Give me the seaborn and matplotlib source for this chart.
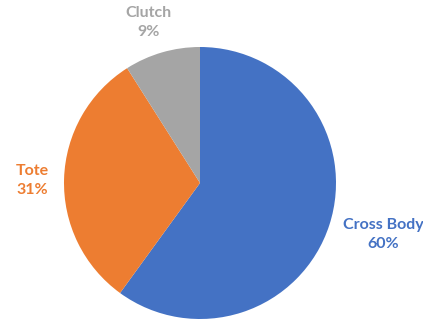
import matplotlib
matplotlib.use("Agg")
import matplotlib.pyplot as plt
import seaborn as sns

# Share of handbag sales by style
categories = ["Cross Body", "Tote", "Clutch"]
shares = [60, 31, 9]
colors = ["#4472C4", "#ED7D31", "#A5A5A5"]

sns.set_theme(style="white")
plt.rcParams["font.family"] = ["Lato", "DejaVu Sans"]

W, H = 423, 325
fig = plt.figure(figsize=(W / 100, H / 100), dpi=100)
fig.patch.set_facecolor("white")

cx, cy, r = 200, 183, 136
ax = fig.add_axes([(cx - r) / W, (H - cy - r) / H, 2 * r / W, 2 * r / H])
ax.pie(shares, colors=colors, startangle=90, counterclock=False,
       radius=1.0, wedgeprops=dict(linewidth=0))
ax.set_xlim(-1, 1)
ax.set_ylim(-1, 1)
ax.set_aspect("equal")
ax.axis("off")

label_pos = {"Cross Body": (1.35, -0.38), "Tote": (-1.23, 0.02), "Clutch": (-0.38, 1.18)}
for cat, val, col in zip(categories, shares, colors):
    x, y = label_pos[cat]
    ax.text(x, y, f"{cat}\n{val}%", color=col, ha="center", va="center",
            fontsize=11.5, fontweight="bold", linespacing=1.45, clip_on=False)

fig.savefig("out.png", dpi=100)
